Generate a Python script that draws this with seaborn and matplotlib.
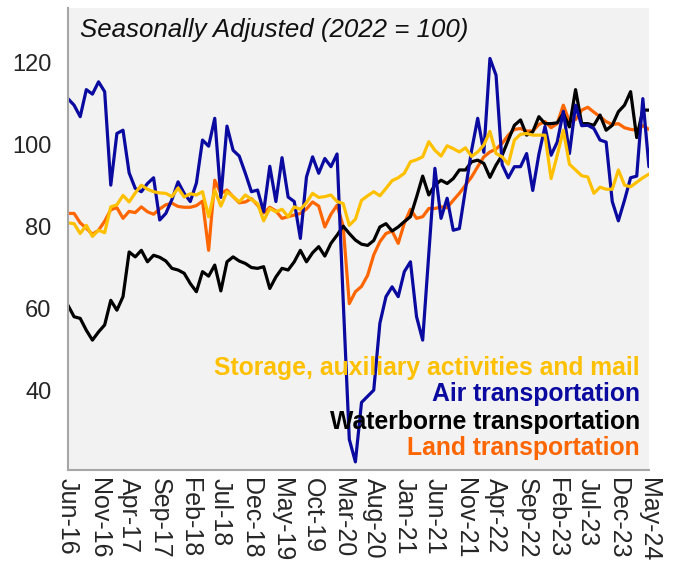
import pandas as pd
import seaborn as sns
import matplotlib.pyplot as plt

# monthly index values, Jun-16 .. May-24 (2022 = 100)
months = pd.date_range("2016-06-01", periods=96, freq="MS")

air = [111.1, 109.5, 106.7, 113.3, 112.2, 115.2, 112.8, 90.0, 102.6, 103.4,
       93.0, 89.2, 88.4, 90.4, 91.8, 81.5, 83.1, 86.5, 90.8, 88.0,
       86.0, 90.5, 101.0, 99.5, 106.3, 87.0, 104.4, 98.5, 97.1, 92.9,
       88.4, 88.8, 83.5, 94.6, 86.0, 96.7, 87.1, 86.0, 77.0, 92.0,
       96.9, 92.9, 96.5, 94.5, 97.6, 62.0, 28.0, 22.5, 37.0, 38.5,
       40.0, 56.3, 62.8, 65.2, 62.8, 68.9, 71.3, 57.9, 52.2, 73.2,
       94.1, 81.9, 86.8, 79.0, 79.4, 89.0, 98.5, 106.3, 98.0, 120.9,
       116.8, 95.0, 91.8, 94.5, 94.5, 97.7, 88.7, 97.5, 104.3, 97.3,
       100.5, 108.0, 97.7, 109.5, 104.5, 104.6, 103.8, 101.0, 100.5, 86.0,
       81.3, 86.3, 91.8, 92.2, 111.1, 94.5]

land = [83.1, 83.1, 80.8, 79.5, 78.0, 79.0, 81.2, 84.0, 84.5, 81.9,
        83.6, 83.3, 84.7, 83.5, 82.9, 84.2, 85.2, 85.6, 84.8, 84.6,
        84.6, 85.0, 86.1, 74.1, 91.2, 88.0, 88.8, 87.2, 85.7, 85.9,
        86.7, 85.1, 83.2, 84.6, 83.7, 81.9, 82.3, 82.7, 83.1, 84.2,
        85.9, 84.9, 79.8, 82.9, 85.1, 80.0, 61.1, 64.0, 65.3, 68.0,
        73.0, 76.2, 78.2, 78.8, 75.8, 80.7, 84.1, 81.9, 82.3, 84.3,
        84.3, 84.7, 84.5, 86.3, 88.0, 90.0, 92.0, 94.5, 96.9, 98.1,
        98.8, 100.2, 102.2, 103.6, 103.8, 103.2, 103.2, 104.8, 105.5, 104.0,
        105.0, 109.5, 105.5, 106.0, 108.3, 109.0, 107.8, 106.7, 105.5, 104.8,
        105.0, 104.0, 103.6, 103.4, 104.5, 103.6]

water = [60.7, 57.9, 57.5, 54.6, 52.2, 54.2, 55.9, 61.9, 59.5, 62.8,
         73.7, 72.5, 74.1, 71.3, 72.9, 72.4, 71.5, 69.7, 69.3, 68.5,
         66.0, 64.0, 68.9, 67.8, 70.5, 64.2, 71.3, 72.5, 71.5, 70.9,
         69.9, 69.7, 70.1, 64.8, 67.6, 69.7, 69.3, 71.3, 74.1, 71.3,
         73.5, 75.0, 72.7, 75.8, 77.8, 80.0, 78.2, 76.6, 75.6, 75.3,
         76.5, 79.8, 80.6, 78.8, 79.8, 81.1, 82.3, 87.1, 92.2, 87.6,
         90.0, 91.2, 90.4, 91.6, 93.7, 93.7, 95.7, 96.1, 95.3, 91.9,
         94.9, 97.3, 101.0, 104.6, 105.9, 102.2, 103.0, 106.7, 105.0, 105.0,
         105.2, 107.5, 104.2, 113.3, 105.0, 105.0, 104.6, 107.1, 103.4, 104.6,
         107.9, 109.5, 112.8, 101.6, 108.3, 108.3]

storage = [80.8, 80.6, 78.2, 80.2, 77.5, 79.0, 78.4, 84.7, 85.2, 87.5,
           85.9, 88.1, 90.0, 89.0, 88.4, 88.1, 88.0, 87.2, 89.3, 87.1,
           87.9, 87.6, 88.4, 82.3, 88.8, 84.9, 88.4, 87.2, 85.9, 87.6,
           86.5, 85.5, 81.3, 84.3, 83.5, 84.1, 82.3, 84.7, 84.1, 85.7,
           88.0, 87.0, 87.2, 87.6, 86.0, 85.5, 80.2, 81.7, 86.3, 87.4,
           88.4, 87.4, 89.2, 91.1, 91.8, 92.9, 95.7, 96.2, 96.9, 100.6,
           98.5, 97.1, 99.6, 98.9, 98.1, 99.1, 97.0, 98.1, 99.8, 103.1,
           97.7, 96.9, 95.1, 101.0, 102.4, 102.6, 102.2, 102.2, 102.2, 91.6,
           97.3, 103.4, 95.1, 93.7, 92.3, 92.0, 88.0, 89.5, 89.0, 89.0,
           93.7, 90.0, 89.6, 90.7, 91.8, 92.7]

names = ["Land transportation", "Waterborne transportation",
         "Air transportation", "Storage, auxiliary activities and mail"]
colors = {"Land transportation": "#FF6600",
          "Waterborne transportation": "#000000",
          "Air transportation": "#0A0AA0",
          "Storage, auxiliary activities and mail": "#FFC000"}

df = pd.DataFrame({"t": range(len(months)),
                   names[0]: land, names[1]: water,
                   names[2]: air, names[3]: storage})
long = df.melt(id_vars="t", var_name="series", value_name="index")

sns.set_style("white")
plt.rcParams["font.family"] = ["Liberation Sans", "DejaVu Sans"]

fig = plt.figure(figsize=(6.75, 5.65), dpi=100)
ax = fig.add_axes([0.1007, 0.168, 0.8607, 0.8178])
ax.set_facecolor("#F2F2F2")

sns.lineplot(data=long, x="t", y="index", hue="series", hue_order=names,
             palette=colors, linewidth=2.3, legend=False, ax=ax)

ax.set_xlim(0, 95)
ax.set_ylim(20.5, 133.2)
ax.set_yticks([40, 60, 80, 100, 120])
ticks = list(range(0, 96, 5))
ax.set_xticks(ticks)
ax.set_xticklabels([months[i].strftime("%b-%y") for i in ticks], rotation=-90)
ax.tick_params(axis="both", length=0, colors="#262626")
ax.tick_params(axis="y", pad=12, labelsize=17)
ax.tick_params(axis="x", pad=6, labelsize=18)
ax.set_xlabel("")
ax.set_ylabel("")

for s in ["top", "right"]:
    ax.spines[s].set_visible(False)
for s in ["left", "bottom"]:
    ax.spines[s].set_color("#A6A6A6")
    ax.spines[s].set_linewidth(1.5)

ax.text(0.02, 0.952, "Seasonally Adjusted (2022 = 100)", transform=ax.transAxes,
        fontsize=18.6, style="italic", va="center", ha="left", color="#111111")

# series labels in the lower right corner
labels = [("Storage, auxiliary activities and mail", 0.222),
          ("Air transportation", 0.164),
          ("Waterborne transportation", 0.105),
          ("Land transportation", 0.047)]
for name, ypos in labels:
    ax.text(0.9845, ypos, name, transform=ax.transAxes, ha="right", va="center",
            fontsize=17.8, fontweight="bold", color=colors[name])

fig.savefig("out.png", dpi=100)
